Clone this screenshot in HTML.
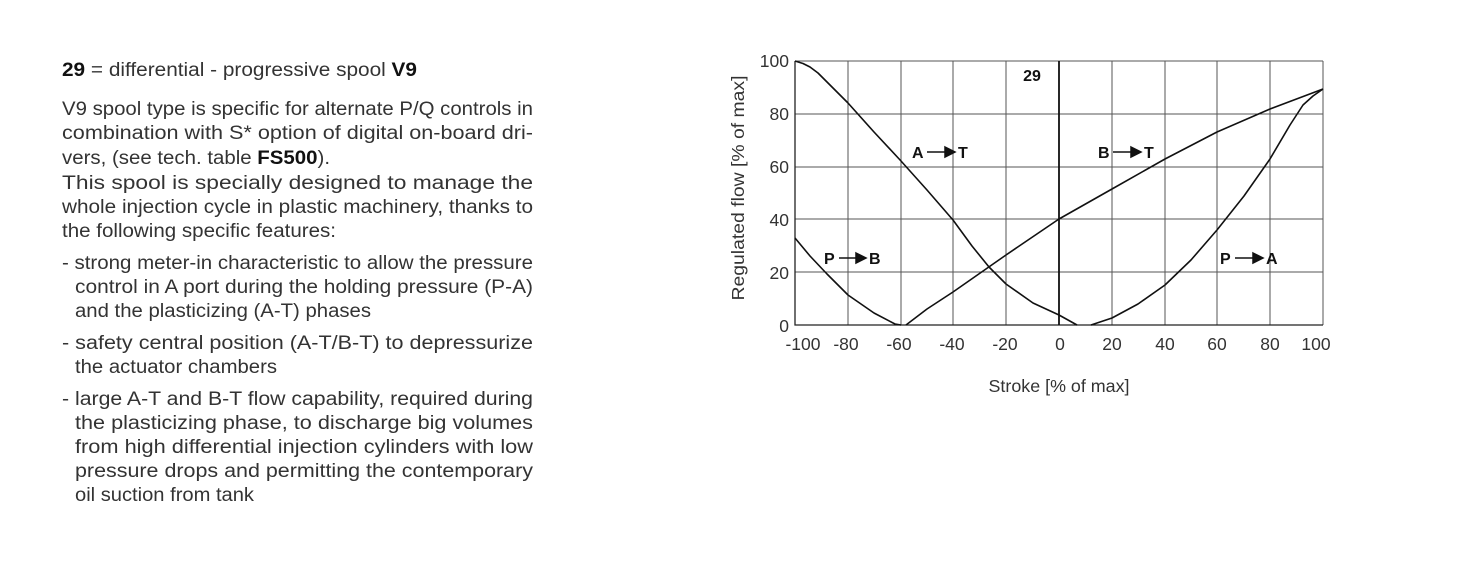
<!DOCTYPE html>
<html><head><meta charset="utf-8"><style>
html,body{margin:0;padding:0;background:#fff;}
svg{display:block;}
.t{font-family:"Liberation Sans",sans-serif;font-size:19px;fill:#333;}
.a{font-family:"Liberation Sans",sans-serif;font-size:17.5px;fill:#333;}
.l{font-family:"Liberation Sans",sans-serif;font-size:16px;font-weight:bold;fill:#111;}
</style></head><body>
<svg width="1478" height="574" viewBox="0 0 1478 574">
<g class="t">
<text x="62" y="76" textLength="355" lengthAdjust="spacingAndGlyphs"><tspan font-weight="bold" fill="#111">29</tspan> = differential - progressive spool  <tspan font-weight="bold" fill="#111">V9</tspan></text>
<text x="62" y="115" textLength="471" lengthAdjust="spacingAndGlyphs">V9 spool type is specific for alternate P/Q controls in</text>
<text x="62" y="139" textLength="471" lengthAdjust="spacingAndGlyphs">combination with S* option of digital on-board dri-</text>
<text x="62" y="164" textLength="268" lengthAdjust="spacingAndGlyphs">vers, (see tech. table <tspan font-weight="bold" fill="#111">FS500</tspan>).</text>
<text x="62" y="189" textLength="471" lengthAdjust="spacingAndGlyphs">This spool is specially designed to manage the</text>
<text x="62" y="213" textLength="471" lengthAdjust="spacingAndGlyphs">whole injection cycle in plastic machinery, thanks to</text>
<text x="62" y="237" textLength="274" lengthAdjust="spacingAndGlyphs">the following specific features:</text>
<text x="62" y="269" textLength="471" lengthAdjust="spacingAndGlyphs">- strong meter-in characteristic to allow the pressure</text>
<text x="75" y="293" textLength="458" lengthAdjust="spacingAndGlyphs">control in A port during the holding pressure (P-A)</text>
<text x="75" y="317" textLength="296" lengthAdjust="spacingAndGlyphs">and the plasticizing (A-T) phases</text>
<text x="62" y="349" textLength="471" lengthAdjust="spacingAndGlyphs">- safety central position (A-T/B-T) to depressurize</text>
<text x="75" y="373" textLength="202" lengthAdjust="spacingAndGlyphs">the actuator chambers</text>
<text x="62" y="405" textLength="471" lengthAdjust="spacingAndGlyphs">- large A-T and B-T flow capability, required during</text>
<text x="75" y="429" textLength="458" lengthAdjust="spacingAndGlyphs">the plasticizing phase, to discharge big volumes</text>
<text x="75" y="453" textLength="458" lengthAdjust="spacingAndGlyphs">from high differential injection cylinders with low</text>
<text x="75" y="477" textLength="458" lengthAdjust="spacingAndGlyphs">pressure drops and permitting the contemporary</text>
<text x="75" y="501" textLength="179" lengthAdjust="spacingAndGlyphs">oil suction from tank</text>
</g>
<g stroke="#555" stroke-width="1" fill="none">
<path d="M848 61V325M901 61V325M953 61V325M1006 61V325M1112 61V325M1165 61V325M1217 61V325M1270 61V325M1323 61V325"/>
<path d="M795 61H1323M795 114H1323M795 167H1323M795 219H1323M795 272H1323"/>
</g>
<path d="M795 61V325H1323" stroke="#222" stroke-width="1.3" fill="none"/>
<path d="M1059 61V325" stroke="#111" stroke-width="1.8"/>
<g stroke="#111" stroke-width="1.6" fill="none" stroke-linejoin="round">
<polyline points="795,61 803,63.5 810,67 818,73 827,82 848,103 874,132 901,161 927,190 953,220 972,246 989,267 1006,284 1033,303 1059,315 1077,325"/>
<polyline points="906,325 927,309 953,292 1006,255 1059,219 1112,189 1165,159 1217,132 1270,109 1323,89"/>
<polyline points="795,238 810,256 827,274 848,295 874,313 895,324 901,325"/>
<polyline points="1091,325 1100,322 1112,318 1138,304 1165,285 1191,260 1217,230 1244,196 1270,159 1290,125 1303,105 1313,96 1323,89"/>
</g>
<g class="a" text-anchor="end">
<text x="789" y="67">100</text><text x="789" y="120">80</text><text x="789" y="173">60</text>
<text x="789" y="226">40</text><text x="789" y="279">20</text><text x="789" y="332">0</text>
</g>
<g class="a" text-anchor="middle">
<text x="803" y="350">-100</text><text x="846" y="350">-80</text><text x="899" y="350">-60</text>
<text x="952" y="350">-40</text><text x="1005" y="350">-20</text><text x="1060" y="350">0</text>
<text x="1112" y="350">20</text><text x="1165" y="350">40</text><text x="1217" y="350">60</text>
<text x="1270" y="350">80</text><text x="1316" y="350">100</text>
<text x="1059" y="392" textLength="141" lengthAdjust="spacingAndGlyphs">Stroke [% of max]</text>
<text transform="translate(744,188) rotate(-90)" textLength="225" lengthAdjust="spacingAndGlyphs">Regulated flow  [% of max]</text>
</g>
<text class="l" x="1032" y="81" text-anchor="middle">29</text>
<g class="l">
<text x="912" y="158">A</text><text x="958" y="158">T</text>
<text x="1098" y="158">B</text><text x="1144" y="158">T</text>
<text x="824" y="264">P</text><text x="869" y="264">B</text>
<text x="1220" y="264">P</text><text x="1266" y="264">A</text>
</g>
<g stroke="#111" stroke-width="1.5" fill="#111">
<path d="M927 152H945"/><polygon points="945,147 955,152 945,157"/>
<path d="M1113 152H1131"/><polygon points="1131,147 1141,152 1131,157"/>
<path d="M839 258H856"/><polygon points="856,253 866,258 856,263"/>
<path d="M1235 258H1253"/><polygon points="1253,253 1263,258 1253,263"/>
</g>
</svg>
</body></html>
